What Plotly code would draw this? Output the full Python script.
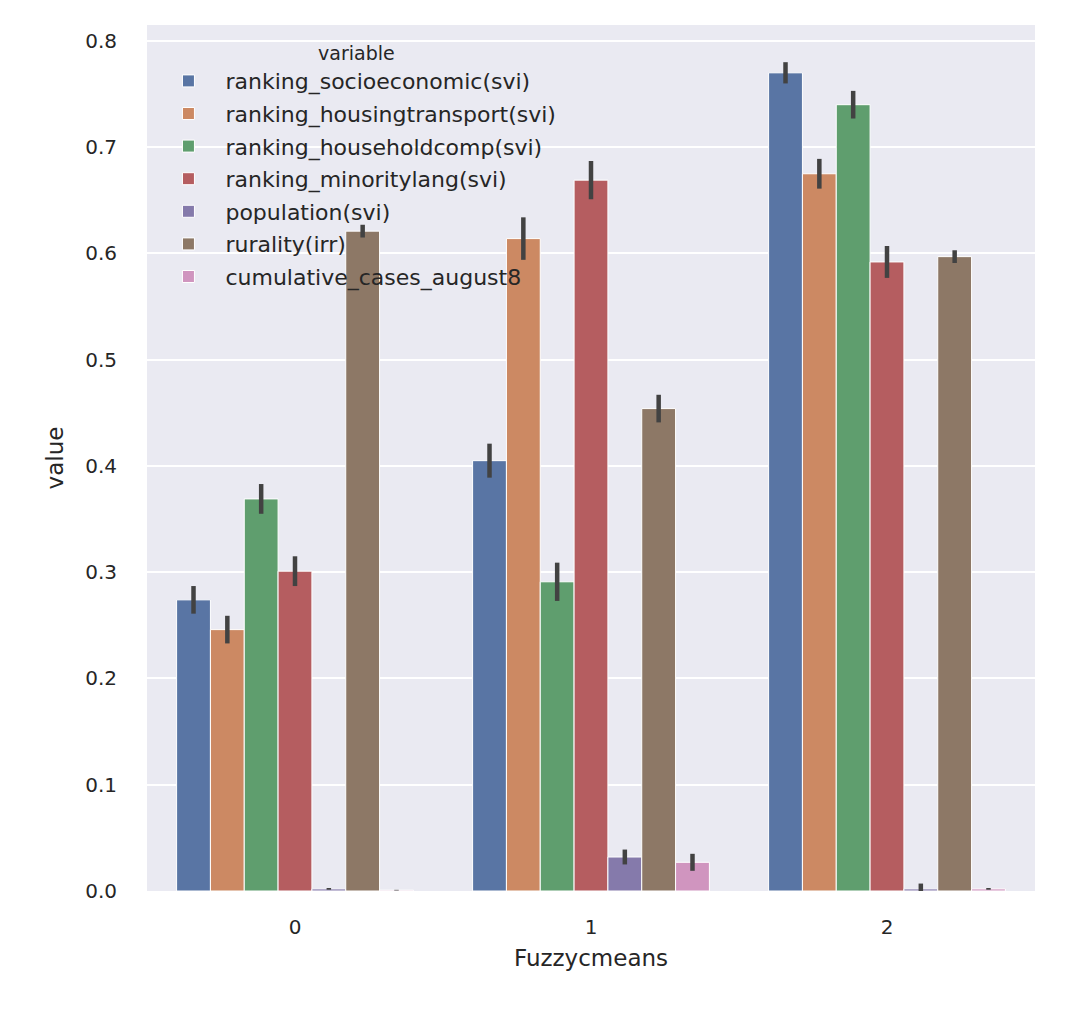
import plotly.graph_objects as go

# seaborn-style grouped barplot of cluster means
clusters = ["0", "1", "2"]
variables = [
    "ranking_socioeconomic(svi)",
    "ranking_housingtransport(svi)",
    "ranking_householdcomp(svi)",
    "ranking_minoritylang(svi)",
    "population(svi)",
    "rurality(irr)",
    "cumulative_cases_august8",
]
socioeconomic = [0.274, 0.405, 0.770]
housingtransport = [0.246, 0.614, 0.675]
householdcomp = [0.369, 0.291, 0.740]
minoritylang = [0.301, 0.669, 0.592]
population = [0.002, 0.032, 0.002]
rurality = [0.621, 0.454, 0.597]
cumulative_cases = [0.0008, 0.027, 0.002]

err_socioeconomic = [0.013, 0.016, 0.010]
err_housingtransport = [0.013, 0.020, 0.014]
err_householdcomp = [0.014, 0.018, 0.013]
err_minoritylang = [0.014, 0.018, 0.015]
err_population = [0.0008, 0.007, 0.005]
err_rurality = [0.006, 0.013, 0.006]
err_cumulative = [0.0003, 0.008, 0.0008]

values = [socioeconomic, housingtransport, householdcomp, minoritylang,
          population, rurality, cumulative_cases]
errors = [err_socioeconomic, err_housingtransport, err_householdcomp,
          err_minoritylang, err_population, err_rurality, err_cumulative]

# desaturated seaborn "deep" palette
colors = ["#5975A4", "#CC8963", "#5F9E6E", "#B55D60", "#857AAB", "#8D7866", "#D095BF"]

FONT = "DejaVu Sans"
TEXT = "#262626"

fig = go.Figure()
for name, vals, errs, col in zip(variables, values, errors, colors):
    fig.add_trace(
        go.Bar(
            x=clusters,
            y=vals,
            name=name,
            legendgroup=name,
            marker=dict(color=col, line=dict(color="white", width=1)),
            error_y=dict(type="data", array=errs, visible=True,
                         color="#424242", thickness=4.5, width=0),
        )
    )

fig.update_layout(
    width=1072,
    height=1010,
    margin=dict(l=139, r=45, t=17, b=127),
    paper_bgcolor="white",
    plot_bgcolor="#EAEAF2",
    barmode="group",
    bargap=0.2,
    bargroupgap=0,
    font=dict(family=FONT, size=20, color=TEXT),
    legend=dict(
        x=0.005, y=0.988, xanchor="left", yanchor="top",
        bgcolor="rgba(0,0,0,0)",
        title=dict(text="variable", side="top center", font=dict(size=19)),
        font=dict(size=22, color=TEXT),
        tracegroupgap=1,
        traceorder="grouped",
        itemwidth=64,
    ),
)

fig.update_xaxes(
    title=dict(text="Fuzzycmeans", font=dict(size=23), standoff=11),
    showgrid=False, zeroline=False, showline=False,
    ticks="", ticklabelstandoff=22,
    range=[-0.5, 2.5],
)
fig.update_yaxes(
    title=dict(text="value", font=dict(size=23), standoff=15),
    range=[0, 0.815],
    tickvals=[0, 0.1, 0.2, 0.3, 0.4, 0.5, 0.6, 0.7, 0.8],
    tickformat=".1f",
    showgrid=True, gridcolor="white", gridwidth=1.5,
    zeroline=False, showline=False,
    ticks="", ticklabelstandoff=29,
)

fig.write_html("out.html")
